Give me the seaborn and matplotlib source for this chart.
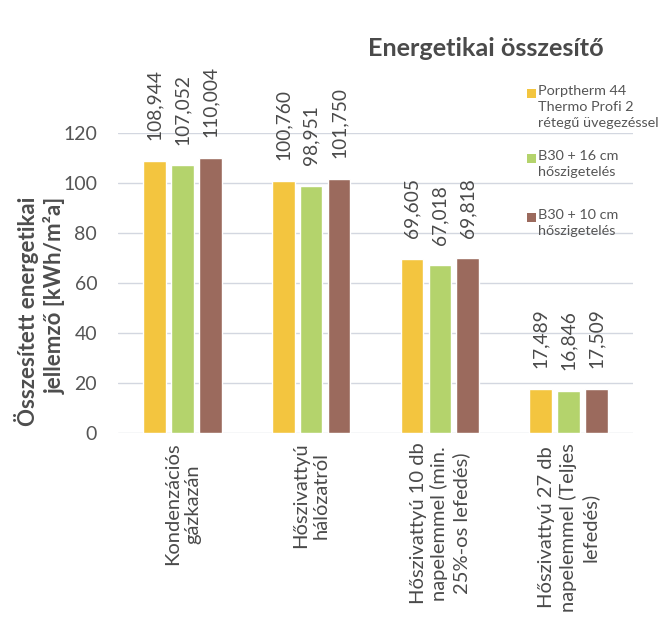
import matplotlib
matplotlib.use("Agg")
import matplotlib.pyplot as plt
import seaborn as sns
import pandas as pd
from matplotlib.patches import Rectangle

categories = [
    "Kondenzációs\ngázkazán",
    "Hőszivattyú\nhálózatról",
    "Hőszivattyú 10 db\nnapelemmel (min.\n25%-os lefedés)",
    "Hőszivattyú 27 db\nnapelemmel (Teljes\nlefedés)",
]
series_names = [
    "Porptherm 44\nThermo Profi 2\nrétegű üvegezéssel",
    "B30 + 16 cm\nhőszigetelés",
    "B30 + 10 cm\nhőszigetelés",
]
porptherm = [108.944, 100.760, 69.605, 17.489]
b30_16 = [107.052, 98.951, 67.018, 16.846]
b30_10 = [110.004, 101.750, 69.818, 17.509]
yticks = [0, 20, 40, 60, 80, 100, 120]
colors = ["#F3C53F", "#B4D36C", "#9B6A5D"]

sns.set_theme(style="white")
FONT = ["Lato", "DejaVu Sans"]
plt.rcParams["font.family"] = FONT

rows = []
for name, vals in zip(series_names, [porptherm, b30_16, b30_10]):
    for c, v in zip(categories, vals):
        rows.append({"cat": c, "series": name, "value": v})
df = pd.DataFrame(rows)

fig = plt.figure(figsize=(6.62, 6.27), dpi=100)
fig.patch.set_facecolor("white")
ax = fig.add_axes([118 / 662, 1 - 433 / 627, (633 - 118) / 662, 300 / 627])

sns.barplot(data=df, x="cat", y="value", hue="series", order=categories,
            hue_order=series_names, palette=colors, width=0.65, gap=0.19,
            saturation=1, legend=False, ax=ax, zorder=3)

ax.set_ylim(0, 120)
ax.set_xlim(-0.5, 3.5)
ax.set_yticks(yticks)
ax.set_yticklabels([str(t) for t in yticks], fontsize=14, color="#555555")
ax.yaxis.grid(True, color="#D3D7E0", linewidth=1.0, zorder=0)
ax.set_axisbelow(True)
for s in ax.spines.values():
    s.set_visible(False)
ax.tick_params(axis="y", length=0, pad=15)
ax.tick_params(axis="x", length=0, pad=7)
ax.set_xlabel("")
ax.set_ylabel("")
ax.set_xticks(range(len(categories)))
ax.set_xticklabels(categories, rotation=90, ha="center", va="top",
                   multialignment="center", fontsize=14.5, color="#4a4a4a",
                   linespacing=1.25)

for cont in ax.containers:
    labels = [f"{b.get_height():.3f}".replace(".", ",") for b in cont]
    ax.bar_label(cont, labels=labels, rotation=90, padding=15,
                 fontsize=13.8, color="#4a4a4a")

fig.text(40 / 662, 1 - 311 / 627, "Összesített energetikai\njellemző [kWh/m²a]",
         rotation=90, ha="center", va="center", multialignment="right",
         fontsize=16, fontweight="bold", color="#4d4d4d", linespacing=1.25)

fig.text(486 / 662, 1 - 49 / 627, "Energetikai összesítő", ha="center",
         va="center", fontsize=18.2, fontweight="bold", color="#4a4a4a")

# legend
leg_y = [93, 158, 217]
for name, col, y in zip(series_names, colors, leg_y):
    fig.patches.append(Rectangle((527 / 662, 1 - (y + 4.5) / 627), 9 / 662, 9 / 627,
                                 transform=fig.transFigure, facecolor=col,
                                 edgecolor="none"))
    fig.text(538 / 662, 1 - (y - 8) / 627, name, ha="left", va="top",
             fontsize=10.4, color="#555555", linespacing=1.4)

fig.savefig("out.png", dpi=100, facecolor="white")
